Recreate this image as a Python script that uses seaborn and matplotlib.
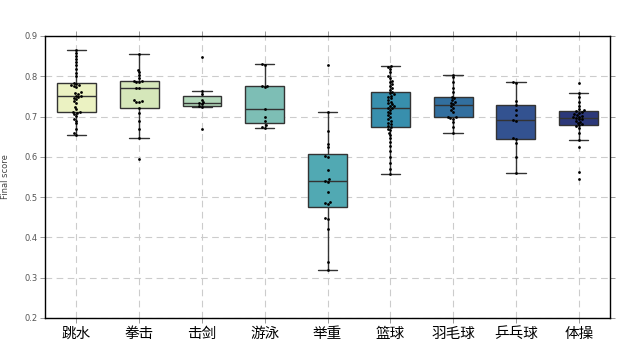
import numpy as np
import pandas as pd
import seaborn as sns
import matplotlib
matplotlib.use('Agg')
import matplotlib.pyplot as plt

# Sports (x categories)
sports = ['跳水', '拳击', '击剑', '游泳', '举重', '篮球', '羽毛球', '乒乓球', '体操']

# Final scores per sport
diving = [0.865, 0.858, 0.850, 0.842, 0.835, 0.828, 0.818, 0.808, 0.800, 0.783,
          0.781, 0.779, 0.777, 0.776, 0.774, 0.760, 0.758, 0.756, 0.752, 0.750,
          0.748, 0.746, 0.743, 0.738, 0.733, 0.724, 0.718, 0.712, 0.710, 0.709,
          0.706, 0.702, 0.695, 0.690, 0.683, 0.668, 0.660, 0.655]
boxing = [0.854, 0.816, 0.810, 0.803, 0.795, 0.788, 0.787, 0.786, 0.785, 0.772,
          0.770, 0.741, 0.739, 0.737, 0.735, 0.722, 0.708, 0.690, 0.668, 0.647,
          0.594]
fencing = [0.847, 0.764, 0.755, 0.742, 0.736, 0.733, 0.730, 0.725, 0.723, 0.668]
swimming = [0.831, 0.828, 0.776, 0.775, 0.773, 0.719, 0.699, 0.690, 0.678, 0.674,
            0.672]
weightlifting = [0.827, 0.710, 0.664, 0.633, 0.624, 0.602, 0.599, 0.567, 0.544,
                 0.541, 0.538, 0.513, 0.489, 0.486, 0.484, 0.449, 0.446, 0.421,
                 0.340, 0.318]
basketball = [0.825, 0.822, 0.818, 0.810, 0.800, 0.795, 0.788, 0.785, 0.780, 0.775,
              0.770, 0.765, 0.761, 0.758, 0.755, 0.752, 0.749, 0.745, 0.741, 0.737,
              0.733, 0.730, 0.727, 0.725, 0.722, 0.720, 0.716, 0.712, 0.708, 0.703,
              0.698, 0.693, 0.689, 0.685, 0.681, 0.677, 0.673, 0.670, 0.666, 0.660,
              0.654, 0.646, 0.638, 0.628, 0.615, 0.600, 0.585, 0.570, 0.558]
badminton = [0.804, 0.797, 0.785, 0.772, 0.762, 0.748, 0.745, 0.740, 0.736, 0.733,
             0.730, 0.726, 0.722, 0.716, 0.712, 0.700, 0.698, 0.697, 0.695, 0.686,
             0.674, 0.658]
pingpong = [0.786, 0.784, 0.739, 0.729, 0.715, 0.703, 0.692, 0.690, 0.647, 0.645,
            0.635, 0.599, 0.561]
gymnastics = [0.783, 0.759, 0.748, 0.737, 0.725, 0.718, 0.715, 0.713, 0.711, 0.709,
              0.706, 0.704, 0.702, 0.700, 0.698, 0.697, 0.695, 0.693, 0.690, 0.687,
              0.685, 0.681, 0.679, 0.676, 0.672, 0.660, 0.642, 0.624, 0.563, 0.545]

scores = [diving, boxing, fencing, swimming, weightlifting,
          basketball, badminton, pingpong, gymnastics]

df = pd.DataFrame({
    'sport': [s for s, vals in zip(sports, scores) for _ in vals],
    'score': [v for vals in scores for v in vals],
})

sns.set_style('white')
plt.rcParams['font.family'] = ['DejaVu Sans']

fig = plt.figure(figsize=(6.4, 3.63), dpi=100)
ax = fig.add_axes([0.0703, 0.124, 0.883, 0.777])

sns.boxplot(x='sport', y='score', data=df, order=sports, hue='sport',
            palette='YlGnBu', legend=False, width=0.62, showfliers=False,
            linewidth=1.0, linecolor='#333333', ax=ax)
sns.swarmplot(x='sport', y='score', data=df, order=sports, color='black',
              size=2.0, ax=ax)

# dashed grid in both directions (seaborn switches off the categorical one)
ax.grid(True, axis='both', color='#cccccc', linestyle=(0, (6, 4)), linewidth=0.8)
ax.set_axisbelow(True)

ax.set_xlim(-0.5, 8.5)
ax.set_ylim(0.2, 0.9)
ax.set_yticks(np.arange(0.2, 0.91, 0.1))
ax.set_yticklabels(['%.1f' % t for t in np.arange(0.2, 0.91, 0.1)])
ax.set_xlabel('')
ax.set_ylabel('Final score', fontsize=6, color='#444444', labelpad=10)

for sp in ax.spines.values():
    sp.set_visible(True)
    sp.set_color('black')
    sp.set_linewidth(1.0)

ax.tick_params(axis='y', which='both', left=True, right=True, direction='out',
               length=3.5, width=0.6, color='#888888', labelsize=6,
               labelcolor='#555555', pad=2)
ax.tick_params(axis='x', which='both', top=True, bottom=True, direction='out',
               length=3.5, width=0.6, color='#888888', pad=3)
for lab in ax.get_xticklabels():
    lab.set_family(['Noto Sans CJK SC', 'DejaVu Sans'])
    lab.set_fontsize(10.5)
    lab.set_color('black')

fig.savefig('out.png', dpi=100)
